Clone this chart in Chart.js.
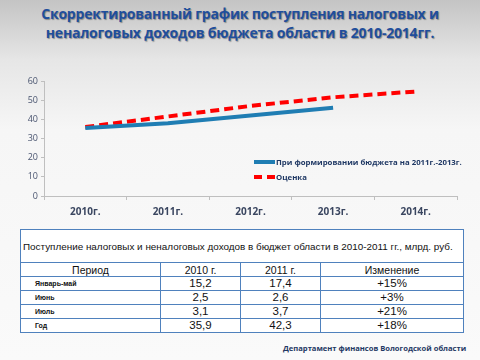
<!DOCTYPE html>
<html lang="ru">
<head>
  <meta charset="UTF-8" />
  <title>График поступления доходов</title>
  <script src="https://cdn.jsdelivr.net/npm/chart.js"></script>
  <style>
    html, body { margin: 0; padding: 0; }
    body {
      width: 480px; height: 360px; position: relative; overflow: hidden;
      background: linear-gradient(to bottom, #c4c4c4 0px, #e6e6e6 60px, #f6f6f6 130px, #fafafa 360px);
      font-family: "Open Sans", "DejaVu Sans", sans-serif;
    }
    #title {
      position: absolute; left: 0; top: 4px; width: 480px; text-align: center;
      color: #1f4e9c; font-weight: bold; font-size: 14px; line-height: 19px; letter-spacing: -0.2px;
      text-shadow: 1px 1px 1px rgba(0,0,0,0.35);
    }
    .chart-box { position: absolute; left: 10px; top: 70px; width: 460px; height: 154px; }
    #legend { position: absolute; left: 254px; top: 154px; font-size: 7.8px; font-weight: bold; color: #1f3864; white-space: nowrap; }
    #legend div { height: 15px; display: flex; align-items: center; }
    #legend span.sw { display: inline-block; width: 21px; height: 0; margin-right: 1px; }
    #tbl {
      position: absolute; left: 20px; top: 229px; width: 443px; table-layout: fixed;
      border-collapse: collapse; background: #fff; font-family: "Liberation Sans", sans-serif;
      color: #111;
    }
    #tbl td, #tbl th { border: 1px solid #4f81bd; padding: 0; text-align: center; }
    #tbl .cap td { height: 32px; text-align: left; font-size: 9.9px; padding-left: 2px; white-space: nowrap; overflow: visible; }
    #tbl th { font-weight: normal; font-size: 10.5px; height: 13px; }
    #tbl .row td { height: 13px; font-size: 11.5px; line-height: 13px; }
    #tbl .row td.first { text-align: left; font-size: 7px; padding-left: 14px; font-weight: bold; }
    #footer {
      position: absolute; left: 283px; top: 343px; font-size: 7.6px; font-weight: bold;
      color: #1f3864; white-space: nowrap;
    }
  </style>
</head>
<body>
  <div id="title">Скорректированный график поступления налоговых и<br>неналоговых доходов бюджета области в 2010-2014гг.</div>

  <div class="chart-box">
    <canvas id="revChart"></canvas>
  </div>

  <div id="legend"></div>

  <table id="tbl">
    <colgroup><col style="width:140px"><col style="width:80px"><col style="width:80px"><col style="width:143px"></colgroup>
  </table>

  <div id="footer">Департамент финансов Вологодской области</div>

  <script>
    // Годы
    const years = ["2010г.", "2011г.", "2012г.", "2013г.", "2014г."];

    // При формировании бюджета на 2011-2013 (млрд руб.)
    const planValues = [35.5, 38, 42, 46, null];

    // Оценка
    const estimateValues = [36, 41.5, 47, 51.5, 54.5];

    const yTicks = [0, 10, 20, 30, 40, 50, 60];

    // Таблица
    const tableCaption = "Поступление налоговых и неналоговых доходов в бюджет области в  2010-2011 гг., млрд. руб.";
    const tableHeader = ["Период", "2010 г.", "2011 г.", "Изменение"];
    const periods = ["Январь-май", "Июнь", "Июль", "Год"];
    const values2010 = ["15,2", "2,5", "3,1", "35,9"];
    const values2011 = ["17,4", "2,6", "3,7", "42,3"];
    const changes = ["+15%", "+3%", "+21%", "+18%"];

    const series = [
      { label: "При формировании бюджета на 2011г.-2013г.", data: planValues, color: "#1f7db3", dash: [] },
      { label: "Оценка", data: estimateValues, color: "#ff0000", dash: [9, 5] }
    ];

    // html legend
    const legend = document.getElementById("legend");
    series.forEach(function (s) {
      const row = document.createElement("div");
      const sw = document.createElement("span");
      sw.className = "sw";
      sw.style.borderTop = "4px " + (s.dash.length ? "dashed " : "solid ") + s.color;
      row.appendChild(sw);
      row.appendChild(document.createTextNode(s.label));
      legend.appendChild(row);
    });

    // table
    const tbl = document.getElementById("tbl");
    let html = '<tr class="cap"><td colspan="4">' + tableCaption + '</td></tr><tr>';
    tableHeader.forEach(function (h) { html += "<th>" + h + "</th>"; });
    html += "</tr>";
    periods.forEach(function (p, i) {
      html += '<tr class="row"><td class="first">' + p + "</td><td>" + values2010[i] +
              "</td><td>" + values2011[i] + "</td><td>" + changes[i] + "</td></tr>";
    });
    tbl.insertAdjacentHTML("beforeend", "<tbody>" + html + "</tbody>");

    const ctx = document.getElementById("revChart").getContext("2d");
    new Chart(ctx, {
      type: "line",
      data: {
        labels: years,
        datasets: series.map(function (s) {
          return {
            label: s.label,
            data: s.data,
            borderColor: s.color,
            backgroundColor: s.color,
            borderWidth: 4,
            borderDash: s.dash,
            pointRadius: 0,
            fill: false,
            tension: 0
          };
        })
      },
      options: {
        responsive: true,
        maintainAspectRatio: false,
        animation: false,
        layout: { padding: { top: 11, right: 13, bottom: 0, left: 0 } },
        plugins: {
          legend: { display: false },
          tooltip: { enabled: false }
        },
        scales: {
          x: {
            offset: true,
            grid: { drawOnChartArea: false, offset: true, tickLength: 4, color: "#bfbfbf" },
            border: { color: "#bfbfbf" },
            ticks: { color: "#3a4660", font: { size: 10, weight: "bold", family: "Open Sans" }, padding: 6 }
          },
          y: {
            min: 0,
            max: 60,
            afterBuildTicks: function (axis) { axis.ticks = yTicks.map(function (v) { return { value: v }; }); },
            afterFit: function (axis) { axis.width = 34; },
            grid: { drawOnChartArea: false, tickLength: 3, color: "#bfbfbf" },
            border: { color: "#bfbfbf" },
            ticks: { color: "#4a5570", font: { size: 9, family: "Open Sans" }, padding: 3 }
          }
        }
      }
    });
  </script>
</body>
</html>
